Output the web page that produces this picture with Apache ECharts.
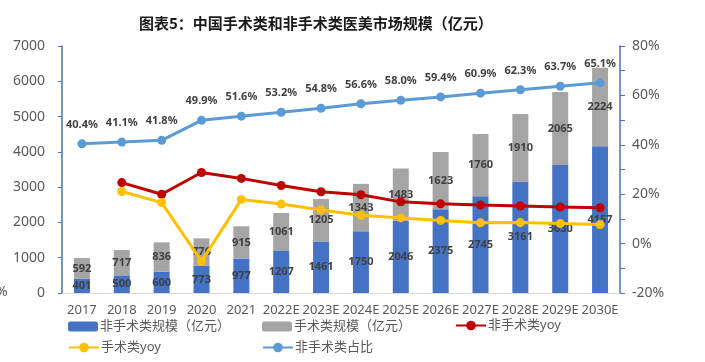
<!DOCTYPE html>
<html><head><meta charset="utf-8">
<script src="https://cdn.jsdelivr.net/npm/echarts@6/dist/echarts.min.js"></script>
<style>html,body{margin:0;padding:0;background:#fff}#c{width:705px;height:362px}</style>
</head><body><div id="c"></div>
<script>
var categories = ['2017','2018','2019','2020','2021','2022E','2023E','2024E','2025E','2026E','2027E','2028E','2029E','2030E'];
var nonSurgical = [401,500,600,773,977,1207,1461,1750,2046,2375,2745,3161,3630,4157];
var surgical = [592,717,836,776,915,1061,1205,1343,1483,1623,1760,1910,2065,2224];
var nonSurgicalYoy = [null,24.7,20.0,28.8,26.4,23.5,21.0,19.8,16.9,16.1,15.6,15.2,14.8,14.5];
var surgicalYoy = [null,21.1,16.6,-7.2,17.9,16.0,13.6,11.5,10.4,9.4,8.4,8.5,8.1,7.7];
var nonSurgicalShare = [40.4,41.1,41.8,49.9,51.6,53.2,54.8,56.6,58.0,59.4,60.9,62.3,63.7,65.1];
var leftTicks = {min:0,max:7000,interval:1000};
var rightTicks = {min:-20,max:80,interval:20};

var FONT = "'Noto Sans','Noto Sans CJK SC',sans-serif";
var AX = '#4472C4';
var TXT = '#595959';
var LBL = {show:true, position:'inside', color:'#404040', fontWeight:'bold', fontSize:11, fontFamily:FONT};
var names = ['非手术类规模（亿元）','手术类规模（亿元）','非手术类yoy','手术类yoy','非手术类占比'];
function lg(name, left, top, isLine){
  return {data:[name], left:left, top:top, itemWidth:30, itemHeight:isLine?12:10, itemGap:0,
    padding:0, textStyle:{color:TXT, fontSize:13, fontFamily:FONT, padding:[0,0,0,-3]}};
}
var chart = echarts.init(document.getElementById('c'));
chart.setOption({
  animation:false,
  textStyle:{fontFamily:FONT},
  title:{text:'图表5：中国手术类和非手术类医美市场规模（亿元）', left:134, top:11,
    textStyle:{fontSize:15, fontWeight:'bold', color:'#1a1a1a', fontFamily:"'Noto Sans CJK SC',sans-serif"}},
  legend:[lg(names[0],68,320,false), lg(names[1],262,320,false), lg(names[2],455,319,true),
          lg(names[3],68,341,true), lg(names[4],262,341,true)],
  grid:{left:62, right:85, top:46, bottom:69},
  xAxis:{type:'category', data:categories,
    axisLine:{lineStyle:{color:'#D9D9D9', width:1}}, axisTick:{show:false},
    axisLabel:{color:TXT, fontSize:13, margin:11, interval:0, fontFamily:FONT}},
  yAxis:[
    {type:'value', min:leftTicks.min, max:leftTicks.max, interval:leftTicks.interval,
     axisLine:{show:true, lineStyle:{color:AX, width:1.5}},
     axisTick:{show:true, length:4, lineStyle:{color:AX}},
     splitLine:{show:false},
     axisLabel:{color:TXT, fontSize:14, margin:17, fontFamily:FONT, formatter:function(v){return String(v);}}},
    {type:'value', min:rightTicks.min, max:rightTicks.max, interval:rightTicks.interval, position:'right',
     axisLine:{show:true, lineStyle:{color:AX, width:1.5}},
     axisTick:{show:true, length:5, lineStyle:{color:AX}},
     minorTick:{show:true, splitNumber:2, length:5, lineStyle:{color:AX}},
     splitLine:{show:false},
     axisLabel:{color:TXT, fontSize:14, margin:12, formatter:'{value}%', fontFamily:FONT}}
  ],
  series:[
    {name:names[0], type:'bar', stack:'s', data:nonSurgical, barWidth:16,
     itemStyle:{color:'#4472C4'}, label:LBL},
    {name:names[1], type:'bar', stack:'s', data:surgical, barWidth:16,
     itemStyle:{color:'#A5A5A5'}, label:LBL},
    {name:names[2], type:'line', yAxisIndex:1, data:nonSurgicalYoy, symbol:'circle', symbolSize:9,
     lineStyle:{color:'#C00000', width:3}, itemStyle:{color:'#C00000'}, z:5},
    {name:names[3], type:'line', yAxisIndex:1, data:surgicalYoy, symbol:'circle', symbolSize:9,
     lineStyle:{color:'#FFC000', width:3}, itemStyle:{color:'#FFC000'}, z:5},
    {name:names[4], type:'line', yAxisIndex:1, data:nonSurgicalShare, symbol:'circle', symbolSize:9,
     lineStyle:{color:'#5B9BD5', width:3}, itemStyle:{color:'#5B9BD5'}, z:5,
     label:{show:true, position:'top', distance:9, color:'#404040', fontWeight:'bold', fontSize:11,
       fontFamily:FONT, formatter:function(p){return p.value.toFixed(1)+'%';}}}
  ],
  graphic:[{type:'text', left:-4, top:285, style:{text:'%', fill:TXT, fontSize:14, fontFamily:FONT}}]
});
</script></body></html>
